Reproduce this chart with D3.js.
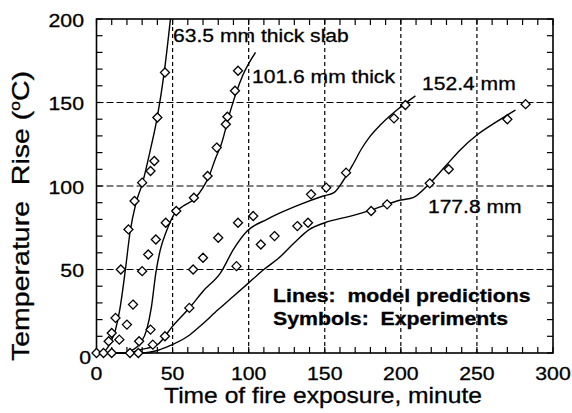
<!DOCTYPE html>
<html><head><meta charset="utf-8">
<script src="https://cdn.jsdelivr.net/npm/d3@7"></script>
<style>
html,body{margin:0;padding:0;background:#fff;}
svg{display:block;font-family:"Liberation Sans",Arial,Helvetica,sans-serif;}
svg text{stroke:#000;stroke-width:0.3px;}
</style></head><body>
<svg id="chart" width="572" height="413"></svg>
<script>
// Axis ticks and grid positions
const xTicks = [0, 50, 100, 150, 200, 250, 300];
const yTicks = [0, 50, 100, 150, 200];
const xGrid = [50, 100, 150, 200, 250];
const yGrid = [50, 100, 150];

// Model predictions: [time of fire exposure (min), temperature rise (°C)]
const model635 = [[0,0],[5,1],[9,6],[12.5,14],[15.3,26],[19,50],[22,72],[26,90],[30,101],[35,120],[40,141.5],[44.5,168],[48.6,200]];
const model1016 = [[0,0],[18,0],[24,2],[29,6],[33,14],[36,27],[39,48],[42,62],[46,73],[51,83],[57,88],[64,92],[70,99],[74,106],[78,116],[82,125],[88,145],[96,166],[104.5,180]];
const model1524 = [[0,0],[20,0],[29,2],[40,5],[50,16],[62,28],[70,37],[81.5,48],[90,62],[99,73],[112,80],[121,84],[134,89],[149,94],[156,96],[162,103],[168,112],[174,122],[180,130],[187,137],[200,147.5],[209.6,154]];
const model1778 = [[0,0],[30,0],[40,1.5],[48.6,4.5],[60,10],[68,16],[80,26],[90,34],[100,42],[110,50],[120,57],[130,66],[140,74],[150,78],[167,82],[182,86],[200,91.6],[208,93],[219,101.6],[230,112.6],[239,121.6],[250,130.5],[263,138.5],[275.3,145.5]];

// Experimental measurements
const exp635 = [[0,0],[4.6,0],[8,7],[10,12],[12.5,21],[16,50],[21,74],[25,91],[30,102],[35.5,109],[38,115],[40,141],[45,168]];
const exp1016 = [[10,0],[15,8],[20,17],[24,29],[30,49],[34,59],[39,68],[45.5,78],[52.4,85],[64,93],[73,106],[79,123],[85,137],[86,141.5],[91,157],[93,169]];
const exp1524 = [[22,0],[28,7],[35.5,14],[61,27],[63.5,50],[70,57],[80,69],[93,78],[103,82],[141,95],[151,99],[164,108],[195.5,140.5],[203,148.5]];
const exp1778 = [[27.5,0],[37,5],[45,10],[92,52],[108,65],[117,70],[132,76],[139,78],[180.5,85],[191,89],[219,101.6],[231.5,110],[270,140],[282,149]];

// Curve labels and where their text starts (data coordinates)
const seriesLabels = ["63.5 mm thick slab", "101.6 mm thick", "152.4 mm", "177.8 mm"];
const labelAt = [[50.3,186.5],[102.2,161.7],[213.9,157.2],[217.8,83.8]];
const legendLines = ["Lines:  model predictions", "Symbols:  Experiments"];
const legendAt = [[116,30.7],[116,16.8]];

const svg = d3.select("#chart");
const x = d3.scaleLinear().domain([0, 300]).range([96.5, 553]);
const y = d3.scaleLinear().domain([0, 200]).range([353, 19]);
const SX = 1.12; // horizontal stretch of the lettering

// grid
const g = svg.append("g");
g.selectAll(".vg").data(xGrid).join("line")
  .attr("x1", d => x(d)).attr("x2", d => x(d))
  .attr("y1", y(0)).attr("y2", y(200))
  .attr("stroke", "#000").attr("stroke-width", 1.2).attr("stroke-dasharray", "4,3");
g.selectAll(".hg").data(yGrid).join("line")
  .attr("x1", x(0)).attr("x2", x(300))
  .attr("y1", d => y(d)).attr("y2", d => y(d))
  .attr("stroke", "#000").attr("stroke-width", 1.2).attr("stroke-dasharray", "7,3");

// minor ticks (inward) on all four sides
const tl = 6;
const xMinor = d3.range(0, 301, 10);
const yMinor = d3.range(0, 201, 10);
const axes = svg.append("g").attr("stroke", "#000").attr("stroke-width", 1.2);
axes.selectAll(".tb").data(xMinor).join("line")
  .attr("x1", d => x(d)).attr("x2", d => x(d)).attr("y1", y(0)).attr("y2", y(0) - tl);
axes.selectAll(".tt").data(xMinor).join("line")
  .attr("x1", d => x(d)).attr("x2", d => x(d)).attr("y1", y(200)).attr("y2", y(200) + tl);
axes.selectAll(".tlft").data(yMinor).join("line")
  .attr("y1", d => y(d)).attr("y2", d => y(d)).attr("x1", x(0)).attr("x2", x(0) + tl);
axes.selectAll(".trt").data(yMinor).join("line")
  .attr("y1", d => y(d)).attr("y2", d => y(d)).attr("x1", x(300)).attr("x2", x(300) - tl);

// frame
svg.append("rect")
  .attr("x", x(0)).attr("y", y(200))
  .attr("width", x(300) - x(0)).attr("height", y(0) - y(200))
  .attr("fill", "none").attr("stroke", "#000").attr("stroke-width", 1.6);

// model curves
const line = d3.line().x(d => x(d[0])).y(d => y(d[1])).curve(d3.curveMonotoneX);
[model635, model1016, model1524, model1778].forEach(m => {
  svg.append("path").datum(m).attr("d", line)
    .attr("fill", "none").attr("stroke", "#000").attr("stroke-width", 1.4);
});

// experiment symbols (hollow diamonds)
const diamond = d3.symbol().type(d3.symbolDiamond2).size(52);
[exp635, exp1016, exp1524, exp1778].forEach(e => {
  svg.append("g").selectAll("path").data(e).join("path")
    .attr("d", diamond)
    .attr("transform", d => `translate(${x(d[0])},${y(d[1])})`)
    .attr("fill", "#fff").attr("stroke", "#000").attr("stroke-width", 1.3);
});

// tick labels
const tx = svg.append("g").attr("font-size", 19).attr("fill", "#000");
tx.selectAll("text").data(xTicks).join("text")
  .attr("transform", d => `translate(${x(d)},380) scale(${SX},1)`)
  .attr("text-anchor", "middle").text(d => d);
const ty = svg.append("g").attr("font-size", 19).attr("fill", "#000");
ty.selectAll("text").data(yTicks).join("text")
  .attr("transform", d => d === 0 ? `translate(91,364) scale(${SX},1)` : `translate(84,${y(d) + 7.5}) scale(${SX},1)`)
  .attr("text-anchor", "end").text(d => d);

// axis titles
svg.append("text")
  .attr("transform", `translate(323,403) scale(${SX},1)`)
  .attr("text-anchor", "middle").attr("font-size", 22)
  .text("Time of fire exposure, minute");

const yt = svg.append("text")
  .attr("transform", "translate(29,216) rotate(-90) scale(1.24,1)")
  .attr("text-anchor", "middle").attr("font-size", 23)
  .style("white-space", "pre");
yt.append("tspan").text("Temperature  Rise (");
yt.append("tspan").attr("font-size", 14).attr("dy", -9).text("o");
yt.append("tspan").attr("dy", 9).text("C)");

// curve labels
svg.append("g").selectAll("text").data(seriesLabels).join("text")
  .attr("transform", (d, i) => `translate(${x(labelAt[i][0])},${y(labelAt[i][1])}) scale(1.11,1)`)
  .attr("font-size", 19).text(d => d);

// legend note
svg.append("g").selectAll("text").data(legendLines).join("text")
  .attr("transform", (d, i) => `translate(${x(legendAt[i][0])},${y(legendAt[i][1])}) scale(1.12,1)`)
  .attr("font-size", 19).attr("font-weight", "bold")
  .style("white-space", "pre").text(d => d);
</script>
</body></html>
